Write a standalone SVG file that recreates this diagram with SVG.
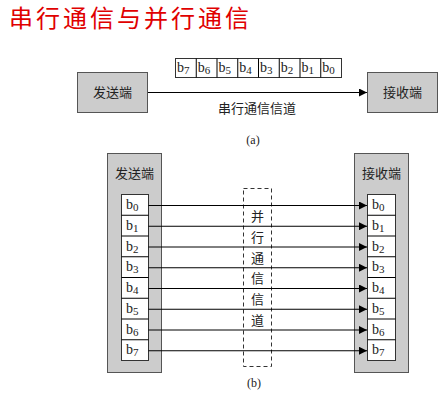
<svg xmlns="http://www.w3.org/2000/svg" width="446" height="400" viewBox="0 0 446 400">
<style>
.cjk{font-family:"Noto Sans CJK SC","Noto Sans",sans-serif;font-size:13px;fill:#222}
.title{font-family:"Noto Sans CJK SC",sans-serif;font-size:24px;fill:#e00000;letter-spacing:3px}
.gbox{fill:#cccccc;stroke:#555;stroke-width:1}
.bbox{fill:#fff;stroke:#333;stroke-width:1}
.bit{font-family:"Liberation Serif","DejaVu Serif",serif;font-size:14px;fill:#222}
.sub{font-size:11px}
.ln{stroke:#000;stroke-width:1;fill:none}
.cap{font-family:"Liberation Serif",serif;font-size:12px;fill:#222}
</style>
<defs>
<marker id="ah" viewBox="0 0 8 8" refX="8" refY="4" markerWidth="8" markerHeight="8" markerUnits="userSpaceOnUse" orient="auto">
<path d="M0,0 L8,4 L0,8 z" fill="#000"/>
</marker>
</defs>
<text class="title" x="9" y="27">串行通信与并行通信</text>

<!-- (a) serial -->
<g id="a-sender"><rect class="gbox" x="77.500" y="72.500" width="70" height="40"/><text class="cjk" x="112.500" y="97" text-anchor="middle">发送端</text></g>
<g id="a-receiver"><rect class="gbox" x="367.500" y="72.500" width="70" height="40"/><text class="cjk" x="402.500" y="97" text-anchor="middle">接收端</text></g>
<g id="a-bits">
<rect class="bbox" x="175.500" y="58.500" width="166" height="19"/>
<path class="ln" d="M196.250,58.500v19M217,58.500v19M237.750,58.500v19M258.500,58.500v19M279.250,58.500v19M300,58.500v19M320.750,58.500v19" stroke="#333"/>
<text class="bit" x="177" y="72">b<tspan class="sub" dy="2">7</tspan></text>
<text class="bit" x="197.750" y="72">b<tspan class="sub" dy="2">6</tspan></text>
<text class="bit" x="218.500" y="72">b<tspan class="sub" dy="2">5</tspan></text>
<text class="bit" x="239.250" y="72">b<tspan class="sub" dy="2">4</tspan></text>
<text class="bit" x="260" y="72">b<tspan class="sub" dy="2">3</tspan></text>
<text class="bit" x="280.750" y="72">b<tspan class="sub" dy="2">2</tspan></text>
<text class="bit" x="301.500" y="72">b<tspan class="sub" dy="2">1</tspan></text>
<text class="bit" x="322.250" y="72">b<tspan class="sub" dy="2">0</tspan></text>
</g>
<g id="connectors-a"><line class="ln" x1="148" y1="92.500" x2="367" y2="92.500" marker-end="url(#ah)"/></g>
<text class="cjk" x="257" y="113" text-anchor="middle">串行通信信道</text>
<text class="cap" x="253" y="144" text-anchor="middle">(a)</text>

<!-- (b) parallel -->
<g id="b-sender">
<rect class="gbox" x="107.500" y="153.500" width="54" height="219"/>
<text class="cjk" x="134.500" y="178" text-anchor="middle">发送端</text>
<rect class="bbox" x="121.500" y="194.500" width="27" height="166"/>
<path class="ln" d="M121.500,215.250h27M121.500,236h27M121.500,256.750h27M121.500,277.500h27M121.500,298.250h27M121.500,319h27M121.500,339.750h27" stroke="#333"/>
<text class="bit" x="126" y="209">b<tspan class="sub" dy="2">0</tspan></text>
<text class="bit" x="126" y="229.750">b<tspan class="sub" dy="2">1</tspan></text>
<text class="bit" x="126" y="250.500">b<tspan class="sub" dy="2">2</tspan></text>
<text class="bit" x="126" y="271.250">b<tspan class="sub" dy="2">3</tspan></text>
<text class="bit" x="126" y="292">b<tspan class="sub" dy="2">4</tspan></text>
<text class="bit" x="126" y="312.750">b<tspan class="sub" dy="2">5</tspan></text>
<text class="bit" x="126" y="333.500">b<tspan class="sub" dy="2">6</tspan></text>
<text class="bit" x="126" y="354.250">b<tspan class="sub" dy="2">7</tspan></text>
</g>
<g id="b-receiver">
<rect class="gbox" x="354.500" y="153.500" width="54" height="219"/>
<text class="cjk" x="381.500" y="178" text-anchor="middle">接收端</text>
<rect class="bbox" x="367.500" y="194.500" width="28" height="166"/>
<path class="ln" d="M367.500,215.250h28M367.500,236h28M367.500,256.750h28M367.500,277.500h28M367.500,298.250h28M367.500,319h28M367.500,339.750h28" stroke="#333"/>
<text class="bit" x="372" y="209">b<tspan class="sub" dy="2">0</tspan></text>
<text class="bit" x="372" y="229.750">b<tspan class="sub" dy="2">1</tspan></text>
<text class="bit" x="372" y="250.500">b<tspan class="sub" dy="2">2</tspan></text>
<text class="bit" x="372" y="271.250">b<tspan class="sub" dy="2">3</tspan></text>
<text class="bit" x="372" y="292">b<tspan class="sub" dy="2">4</tspan></text>
<text class="bit" x="372" y="312.750">b<tspan class="sub" dy="2">5</tspan></text>
<text class="bit" x="372" y="333.500">b<tspan class="sub" dy="2">6</tspan></text>
<text class="bit" x="372" y="354.250">b<tspan class="sub" dy="2">7</tspan></text>
</g>
<g id="b-channel">
<rect x="243.500" y="188.500" width="28" height="178" fill="none" stroke="#333" stroke-dasharray="4,3"/>
<text class="cjk" x="257.500" y="221" text-anchor="middle">并</text>
<text class="cjk" x="257.500" y="241.750" text-anchor="middle">行</text>
<text class="cjk" x="257.500" y="262.500" text-anchor="middle">通</text>
<text class="cjk" x="257.500" y="283.250" text-anchor="middle">信</text>
<text class="cjk" x="257.500" y="304" text-anchor="middle">信</text>
<text class="cjk" x="257.500" y="324.750" text-anchor="middle">道</text>
</g>
<g id="connectors-b">
<line class="ln" x1="148.500" y1="205.500" x2="367" y2="205.500" marker-end="url(#ah)"/>
<line class="ln" x1="148.500" y1="226.250" x2="367" y2="226.250" marker-end="url(#ah)"/>
<line class="ln" x1="148.500" y1="247" x2="367" y2="247" marker-end="url(#ah)"/>
<line class="ln" x1="148.500" y1="267.750" x2="367" y2="267.750" marker-end="url(#ah)"/>
<line class="ln" x1="148.500" y1="288.500" x2="367" y2="288.500" marker-end="url(#ah)"/>
<line class="ln" x1="148.500" y1="309.250" x2="367" y2="309.250" marker-end="url(#ah)"/>
<line class="ln" x1="148.500" y1="330" x2="367" y2="330" marker-end="url(#ah)"/>
<line class="ln" x1="148.500" y1="350.750" x2="367" y2="350.750" marker-end="url(#ah)"/>
</g>
<text class="cap" x="254" y="387" text-anchor="middle">(b)</text>
</svg>
